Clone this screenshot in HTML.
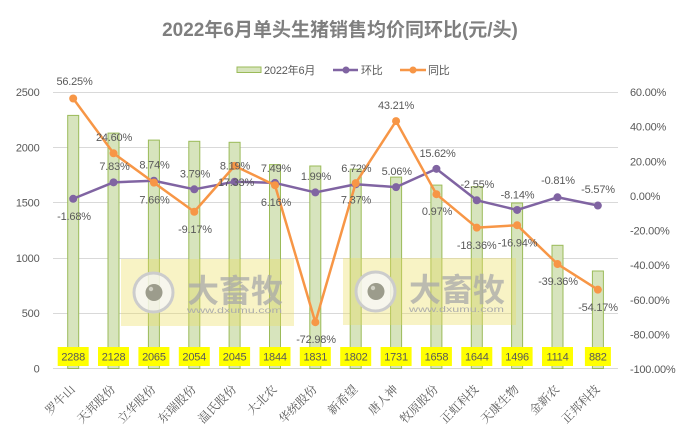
<!DOCTYPE html>
<html><head><meta charset="utf-8"><style>
html,body{margin:0;padding:0;background:#fff;}
svg{display:block;}
.t{font-family:"Liberation Sans","Noto Sans CJK SC",sans-serif;font-size:11px;fill:#595959;letter-spacing:-0.2px;}
.x{font-family:"Liberation Serif","Noto Serif CJK SC",serif;font-size:12px;fill:#595959;}
</style></head><body>
<svg width="680" height="430" viewBox="0 0 680 430" xmlns="http://www.w3.org/2000/svg">
<rect width="680" height="430" fill="#fff"/>
<text x="340" y="36" text-anchor="middle" style="font-family:'Liberation Sans','Noto Sans CJK SC',sans-serif;font-size:19px;font-weight:bold;fill:#7f7f7f;">2022年6月单头生猪销售均价同环比(元/头)</text>
<!-- legend -->
<rect x="237" y="67" width="24" height="5.5" fill="#d7e4bd" stroke="#9bbb59" stroke-width="1"/>
<text class="t" x="264" y="74">2022年6月</text>
<line x1="333" y1="70" x2="358" y2="70" stroke="#8064a2" stroke-width="2.5"/>
<circle cx="346" cy="70" r="3.5" fill="#8064a2"/>
<text class="t" x="361" y="74">环比</text>
<line x1="400" y1="70" x2="426" y2="70" stroke="#f79646" stroke-width="2.5"/>
<circle cx="413" cy="70" r="3.5" fill="#f79646"/>
<text class="t" x="428" y="74">同比</text>
<!-- gridlines -->
<g stroke="#d9d9d9" stroke-width="1">
<line x1="53" y1="92.5" x2="618" y2="92.5"/>
<line x1="53" y1="147.5" x2="618" y2="147.5"/>
<line x1="53" y1="202.5" x2="618" y2="202.5"/>
<line x1="53" y1="258.5" x2="618" y2="258.5"/>
<line x1="53" y1="313.5" x2="618" y2="313.5"/>
<line x1="53" y1="368.5" x2="618" y2="368.5"/>
</g>
<!-- left axis -->
<g class="t" text-anchor="end">
<text x="39.5" y="96">2500</text>
<text x="39.5" y="151.3">2000</text>
<text x="39.5" y="206.6">1500</text>
<text x="39.5" y="261.9">1000</text>
<text x="39.5" y="317.2">500</text>
<text x="39.5" y="372.5">0</text>
</g>
<!-- right axis -->
<g class="t">
<text x="630" y="96">60.00%</text>
<text x="630" y="130.6">40.00%</text>
<text x="630" y="165.3">20.00%</text>
<text x="630" y="199.9">0.00%</text>
<text x="630" y="234.5">-20.00%</text>
<text x="630" y="269.1">-40.00%</text>
<text x="630" y="303.8">-60.00%</text>
<text x="630" y="338.4">-80.00%</text>
<text x="630" y="373">-100.00%</text>
</g>
<!-- bars -->
<g fill="#d7e4bd" stroke="#9bbb59" stroke-width="1">
<rect x="67.7" y="115.4" width="11" height="253.1"/>
<rect x="108" y="133.1" width="11" height="235.4"/>
<rect x="148.4" y="140.1" width="11" height="228.4"/>
<rect x="188.8" y="141.3" width="11" height="227.2"/>
<rect x="229.1" y="142.3" width="11" height="226.2"/>
<rect x="269.5" y="164.6" width="11" height="203.9"/>
<rect x="309.8" y="166" width="11" height="202.5"/>
<rect x="350.2" y="169.2" width="11" height="199.3"/>
<rect x="390.6" y="177.1" width="11" height="191.4"/>
<rect x="430.9" y="185.1" width="11" height="183.4"/>
<rect x="471.3" y="186.7" width="11" height="181.8"/>
<rect x="511.6" y="203" width="11" height="165.5"/>
<rect x="552" y="245.3" width="11" height="123.2"/>
<rect x="592.4" y="271" width="11" height="97.5"/>
</g>
<!-- watermarks -->
<g>
<rect x="121" y="259" width="173" height="67" fill="rgb(235,220,90)" opacity="0.35"/>
<circle cx="153.5" cy="292.5" r="19.5" fill="#f6f6f6" fill-opacity="0.8" stroke="#cccccc" stroke-width="3"/>
<circle cx="154" cy="292.5" r="8.5" fill="#9c9c8c"/>
<circle cx="151" cy="289" r="2.2" fill="#d0d0c4"/>
<text x="187" y="302" style="font-family:'Noto Sans CJK SC',sans-serif;font-size:32px;font-weight:bold;fill:#a8a8a8;" fill-opacity="0.75">大畜牧</text>
<text x="187" y="313" textLength="95" lengthAdjust="spacingAndGlyphs" style="font-family:'Liberation Sans',sans-serif;font-size:8px;fill:#acacac;">www.dxumu.com</text>
</g>
<g transform="translate(222,-1)">
<rect x="121" y="259" width="173" height="67" fill="rgb(235,220,90)" opacity="0.35"/>
<circle cx="153.5" cy="292.5" r="19.5" fill="#f6f6f6" fill-opacity="0.8" stroke="#cccccc" stroke-width="3"/>
<circle cx="154" cy="292.5" r="8.5" fill="#9c9c8c"/>
<circle cx="151" cy="289" r="2.2" fill="#d0d0c4"/>
<text x="187" y="302" style="font-family:'Noto Sans CJK SC',sans-serif;font-size:32px;font-weight:bold;fill:#a8a8a8;" fill-opacity="0.75">大畜牧</text>
<text x="187" y="313" textLength="95" lengthAdjust="spacingAndGlyphs" style="font-family:'Liberation Sans',sans-serif;font-size:8px;fill:#acacac;">www.dxumu.com</text>
</g>
<!-- purple line (环比) -->
<polyline fill="none" stroke="#8064a2" stroke-width="2.5" stroke-linejoin="round" points="73.18,198.78 113.54,182.32 153.9,180.74 194.26,189.31 234.62,181.7 274.98,182.91 315.34,192.43 355.7,184.24 396.06,187.12 436.42,168.83 476.78,200.29 517.14,209.97 557.5,197.28 597.86,205.52"/>
<g fill="#8064a2">
<circle cx="73.18" cy="198.78" r="4"/><circle cx="113.54" cy="182.32" r="4"/><circle cx="153.9" cy="180.74" r="4"/><circle cx="194.26" cy="189.31" r="4"/><circle cx="234.62" cy="181.7" r="4"/><circle cx="274.98" cy="182.91" r="4"/><circle cx="315.34" cy="192.43" r="4"/><circle cx="355.7" cy="184.24" r="4"/><circle cx="396.06" cy="187.12" r="4"/><circle cx="436.42" cy="168.83" r="4"/><circle cx="476.78" cy="200.29" r="4"/><circle cx="517.14" cy="209.97" r="4"/><circle cx="557.5" cy="197.28" r="4"/><circle cx="597.86" cy="205.52" r="4"/>
</g>
<!-- orange line (同比) -->
<polyline fill="none" stroke="#f79646" stroke-width="2.5" stroke-linejoin="round" points="73.18,98.49 113.54,153.29 153.9,182.61 194.26,211.75 234.62,165.87 274.98,185.21 315.34,322.22 355.7,183.12 396.06,121.07 436.42,194.2 476.78,227.66 517.14,225.2 557.5,264.02 597.86,289.66"/>
<g fill="#f79646">
<circle cx="73.18" cy="98.49" r="4"/><circle cx="113.54" cy="153.29" r="4"/><circle cx="153.9" cy="182.61" r="4"/><circle cx="194.26" cy="211.75" r="4"/><circle cx="234.62" cy="165.87" r="4"/><circle cx="274.98" cy="185.21" r="4"/><circle cx="315.34" cy="322.22" r="4"/><circle cx="355.7" cy="183.12" r="4"/><circle cx="396.06" cy="121.07" r="4"/><circle cx="436.42" cy="194.2" r="4"/><circle cx="476.78" cy="227.66" r="4"/><circle cx="517.14" cy="225.2" r="4"/><circle cx="557.5" cy="264.02" r="4"/><circle cx="597.86" cy="289.66" r="4"/>
</g>
<!-- data labels -->
<g class="t" text-anchor="middle">
<text x="74.5" y="85">56.25%</text>
<text x="74" y="220">-1.68%</text>
<text x="114" y="141">24.60%</text>
<text x="114.5" y="170">7.83%</text>
<text x="154.5" y="168.7">8.74%</text>
<text x="154.5" y="203.5">7.66%</text>
<text x="195" y="177.3">3.79%</text>
<text x="195" y="233">-9.17%</text>
<text x="236" y="186">17.33%</text>
<text x="235" y="169.5">8.19%</text>
<text x="276" y="171.8">7.49%</text>
<text x="276" y="206">6.16%</text>
<text x="316" y="180">1.99%</text>
<text x="316" y="343">-72.98%</text>
<text x="356.3" y="172">6.72%</text>
<text x="356" y="203.5">7.37%</text>
<text x="396" y="109">43.21%</text>
<text x="396.7" y="175">5.06%</text>
<text x="437.5" y="157">15.62%</text>
<text x="437" y="215">0.97%</text>
<text x="477.3" y="188">-2.55%</text>
<text x="476.7" y="249">-18.36%</text>
<text x="517.5" y="198.5">-8.14%</text>
<text x="517.5" y="246.5">-16.94%</text>
<text x="558" y="184">-0.81%</text>
<text x="598" y="193">-5.57%</text>
<text x="558" y="285">-39.36%</text>
<text x="598" y="311">-54.17%</text>
</g>
<!-- yellow value boxes -->
<g fill="#ffff00">
<rect x="57.7" y="347" width="31" height="19"/>
<rect x="98" y="347" width="31" height="19"/>
<rect x="138.4" y="347" width="31" height="19"/>
<rect x="178.8" y="347" width="31" height="19"/>
<rect x="219.1" y="347" width="31" height="19"/>
<rect x="259.5" y="347" width="31" height="19"/>
<rect x="299.8" y="347" width="31" height="19"/>
<rect x="340.2" y="347" width="31" height="19"/>
<rect x="380.6" y="347" width="31" height="19"/>
<rect x="420.9" y="347" width="31" height="19"/>
<rect x="461.3" y="347" width="31" height="19"/>
<rect x="501.6" y="347" width="31" height="19"/>
<rect x="542" y="347" width="31" height="19"/>
<rect x="584.9" y="347" width="26" height="19"/>
</g>
<g class="t" text-anchor="middle">
<text x="73.18" y="360.5">2288</text>
<text x="113.54" y="360.5">2128</text>
<text x="153.9" y="360.5">2065</text>
<text x="194.26" y="360.5">2054</text>
<text x="234.62" y="360.5">2045</text>
<text x="274.98" y="360.5">1844</text>
<text x="315.34" y="360.5">1831</text>
<text x="355.7" y="360.5">1802</text>
<text x="396.06" y="360.5">1731</text>
<text x="436.42" y="360.5">1658</text>
<text x="476.78" y="360.5">1644</text>
<text x="517.14" y="360.5">1496</text>
<text x="557.5" y="360.5">1114</text>
<text x="597.86" y="360.5">882</text>
</g>
<!-- x labels -->
<g class="x" text-anchor="end">
<text transform="translate(75.7,390) rotate(-45)">罗牛山</text>
<text transform="translate(116,390) rotate(-45)">天邦股份</text>
<text transform="translate(156.4,390) rotate(-45)">立华股份</text>
<text transform="translate(196.8,390) rotate(-45)">东瑞股份</text>
<text transform="translate(237.1,390) rotate(-45)">温氏股份</text>
<text transform="translate(277.5,390) rotate(-45)">大北农</text>
<text transform="translate(317.8,390) rotate(-45)">华统股份</text>
<text transform="translate(358.2,390) rotate(-45)">新希望</text>
<text transform="translate(398.6,390) rotate(-45)">唐人神</text>
<text transform="translate(438.9,390) rotate(-45)">牧原股份</text>
<text transform="translate(479.3,390) rotate(-45)">正虹科技</text>
<text transform="translate(519.6,390) rotate(-45)">天康生物</text>
<text transform="translate(560,390) rotate(-45)">金新农</text>
<text transform="translate(600.4,390) rotate(-45)">正邦科技</text>
</g>
</svg>
</body></html>
